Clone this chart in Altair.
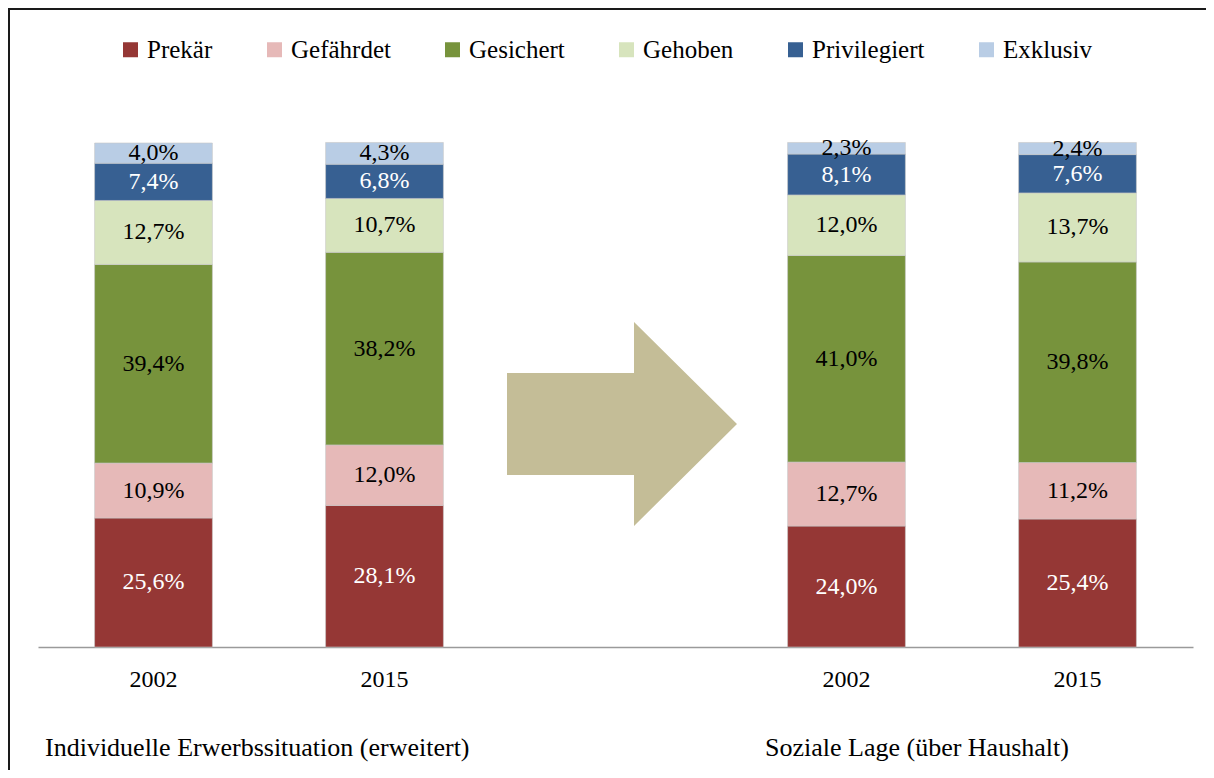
import base64
import altair as alt
import pandas as pd

# ---- data ----
categories = ["Prekär", "Gefährdet", "Gesichert", "Gehoben", "Privilegiert", "Exklusiv"]
colors = ["#953735", "#E6B9B8", "#77933C", "#D7E4BD", "#376092", "#B9CDE5"]
white_text = ["Prekär", "Privilegiert"]

bar_keys = ["I2002", "I2015", "gap", "S2002", "S2015"]
bar_labels = ["2002", "2015", "", "2002", "2015"]

ind_2002 = [25.6, 10.9, 39.4, 12.7, 7.4, 4.0]
ind_2015 = [28.1, 12.0, 38.2, 10.7, 6.8, 4.3]
soz_2002 = [24.0, 12.7, 41.0, 12.0, 8.1, 2.3]
soz_2015 = [25.4, 11.2, 39.8, 13.7, 7.6, 2.4]

group_titles = ["Individuelle Erwerbssituation (erweitert)", "Soziale Lage (über Haushalt)"]

series = {"I2002": ind_2002, "I2015": ind_2015, "S2002": soz_2002, "S2015": soz_2015}
rows = []
for key, vals in series.items():
    for i, (c, v) in enumerate(zip(categories, vals)):
        rows.append({"bar": key, "cat": c, "idx": i, "value": v,
                     "white": 1 if c in white_text else 0})
df = pd.DataFrame(rows)

FONT = "Liberation Serif"
W, H = 1155, 504

label_expr = " : ".join(
    [f"datum.value == '{k}' ? '{l}'" for k, l in zip(bar_keys, bar_labels)] + ["''"]
)

xscale = alt.Scale(domain=bar_keys, paddingInner=0.49, paddingOuter=0.245)
yscale = alt.Scale(domain=[0, 100], nice=False)

x_enc = alt.X(
    "bar:N",
    scale=xscale,
    title=None,
    axis=alt.Axis(
        labelExpr=label_expr,
        labelFontSize=24,
        labelFont=FONT,
        labelColor="black",
        labelAngle=0,
        labelPadding=20,
        ticks=False,
        domainColor="#9a9a9a",
        domainWidth=1.5,
        grid=False,
    ),
)

base = alt.Chart(df)

bars = base.mark_bar(stroke="#c8c8c8", strokeWidth=0.6).encode(
    x=x_enc,
    y=alt.Y("value:Q", stack="zero", scale=yscale, axis=None),
    order=alt.Order("idx:Q"),
    color=alt.Color(
        "cat:N",
        scale=alt.Scale(domain=categories, range=colors),
        legend=alt.Legend(
            orient="none",
            legendX=80,
            legendY=-106,
            direction="horizontal",
            columns=6,
            title=None,
            symbolType="square",
            symbolSize=225,
            symbolStrokeWidth=0,
            symbolOpacity=1,
            labelFontSize=25,
            labelFont=FONT,
            labelColor="black",
            labelOffset=4,
            columnPadding=49,
            padding=0,
        ),
    ),
)

labels = (
    base.transform_stack(
        stack="value", groupby=["bar"], sort=[alt.SortField("idx")], as_=["y0", "y1"]
    )
    .transform_calculate(
        mid="(datum.y0 + datum.y1) / 2",
        txt="replace(format(datum.value, '.1f'), '.', ',') + '%'",
    )
    .mark_text(font=FONT, fontSize=24, baseline="middle", align="center")
    .encode(
        x=alt.X("bar:N", scale=xscale),
        y=alt.Y("mid:Q", scale=yscale),
        text="txt:N",
        color=alt.condition("datum.white == 1", alt.value("white"), alt.value("black")),
    )
)

# decorative arrow (inline SVG image) centred on the empty "gap" category
arrow_svg = (
    "<svg xmlns='http://www.w3.org/2000/svg' width='243' height='204' viewBox='0 0 243 204'>"
    "<path d='M13,51 L140,51 L140,0 L243,102 L140,204 L140,153 L13,153 Z' fill='#C4BD97'/>"
    "</svg>"
)
arrow_uri = "data:image/svg+xml;base64," + base64.b64encode(arrow_svg.encode()).decode()
arrow = (
    alt.Chart(pd.DataFrame({"bar": ["gap"], "pos": [44.25]}))
    .mark_image(width=243, height=204, aspect=False)
    .encode(
        x=alt.X("bar:N", scale=xscale),
        y=alt.Y("pos:Q", scale=yscale),
        url=alt.value(arrow_uri),
    )
)

one = pd.DataFrame({"t": [group_titles[0]]})
two = pd.DataFrame({"t": [group_titles[1]]})
title1 = alt.Chart(one).mark_text(
    font=FONT, fontSize=26, align="left", baseline="middle", color="black"
).encode(text="t:N", x=alt.value(7), y=alt.value(605))
title2 = alt.Chart(two).mark_text(
    font=FONT, fontSize=26, align="left", baseline="middle", color="black"
).encode(text="t:N", x=alt.value(727), y=alt.value(605))

frame_df = pd.DataFrame({"f": [0]})
frame_top = alt.Chart(frame_df).mark_rule(color="#1a1a1a", strokeWidth=2).encode(
    x=alt.value(-30), x2=alt.value(1168), y=alt.value(-134)
)
frame_left = alt.Chart(frame_df).mark_rule(color="#1a1a1a", strokeWidth=2).encode(
    x=alt.value(-29), y=alt.value(-135), y2=alt.value(627)
)

chart = (
    alt.layer(bars, labels, arrow, title1, title2, frame_top, frame_left)
    .properties(
        width=W,
        height=H,
        autosize=alt.AutoSizeParams(type="none"),
        padding={"left": 30, "top": 135, "right": 13, "bottom": 123},
        background="white",
    )
    .configure_view(stroke=None)
)

chart.save("out.html", embed_options={"renderer": "svg", "actions": False})
